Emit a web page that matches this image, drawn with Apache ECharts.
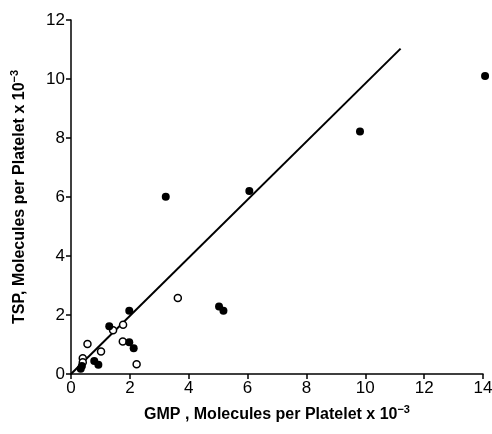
<!DOCTYPE html>
<html><head><meta charset="utf-8">
<script src="https://cdn.jsdelivr.net/npm/echarts@6/dist/echarts.min.js"></script>
<style>html,body{margin:0;padding:0;background:#fff}#c{width:492px;height:434px}</style>
</head><body><div id="c"></div>
<script>
var xTicks = [0, 2, 4, 6, 8, 10, 12, 14];
var yTicks = [0, 2, 4, 6, 8, 10, 12];
var filledGMP = [14.07, 9.82, 6.06, 3.22, 5.03, 5.18, 1.98, 1.30, 1.98, 2.13, 0.79, 0.93, 0.37, 0.33];
var filledTSP = [10.1, 8.22, 6.2, 6.01, 2.29, 2.14, 2.14, 1.62, 1.08, 0.87, 0.44, 0.31, 0.27, 0.18];
var openGMP = [3.63, 1.77, 1.43, 1.76, 0.56, 1.02, 0.40, 0.40, 2.23];
var openTSP = [2.58, 1.67, 1.48, 1.1, 1.02, 0.76, 0.53, 0.40, 0.33];
var lineGMP = [0, 11.2];
var lineTSP = [0, 11.03];

function pairs(a, b) { return a.map(function (v, i) { return [v, b[i]]; }); }

var font = 'Liberation Sans';
var chart = echarts.init(document.getElementById('c'));
chart.setOption({
  animation: false,
  grid: { left: 71, right: 9, top: 20, bottom: 60, containLabel: false, outerBoundsMode: 'none' },
  xAxis: {
    type: 'value', min: 0, max: 14, interval: 2,
    axisLine: { lineStyle: { color: '#000', width: 1.5 } },
    axisTick: { show: true, length: 5, lineStyle: { color: '#000', width: 1.5 } },
    splitLine: { show: false },
    axisLabel: { color: '#000', fontSize: 17, fontFamily: font, margin: 6 },
    name: '{a|GMP , Molecules per Platelet x 10}{b|−3}',
    nameLocation: 'middle', nameGap: 30,
    nameTextStyle: { rich: {
      a: { fontSize: 16, fontWeight: 'bold', fontFamily: font, color: '#000' },
      b: { fontSize: 11, fontWeight: 'bold', fontFamily: font, color: '#000', verticalAlign: 'top', padding: [0, 0, 11, 0] }
    } }
  },
  yAxis: {
    type: 'value', min: 0, max: 12, interval: 2,
    axisLine: { show: true, lineStyle: { color: '#000', width: 1.5 } },
    axisTick: { show: true, length: 5, lineStyle: { color: '#000', width: 1.5 } },
    splitLine: { show: false },
    axisLabel: { color: '#000', fontSize: 17, fontFamily: font, margin: 6 },
    name: '{a|TSP, Molecules per Platelet x 10}{b|−3}',
    nameLocation: 'middle', nameGap: 40,
    nameTextStyle: { rich: {
      a: { fontSize: 16, fontWeight: 'bold', fontFamily: font, color: '#000' },
      b: { fontSize: 11, fontWeight: 'bold', fontFamily: font, color: '#000', verticalAlign: 'top', padding: [0, 0, 11, 0] }
    } }
  },
  series: [
    { type: 'line', data: pairs(lineGMP, lineTSP), showSymbol: false, symbol: 'none',
      lineStyle: { color: '#000', width: 2 }, z: 1 },
    { type: 'scatter', data: pairs(openGMP, openTSP), symbol: 'circle', symbolSize: 7, clip: false,
      itemStyle: { color: '#fff', borderColor: '#000', borderWidth: 1.5, opacity: 1 }, z: 2 },
    { type: 'scatter', data: pairs(filledGMP, filledTSP), symbol: 'circle', symbolSize: 8, clip: false,
      itemStyle: { color: '#000', opacity: 1 }, z: 3 }
  ]
});
</script></body></html>
